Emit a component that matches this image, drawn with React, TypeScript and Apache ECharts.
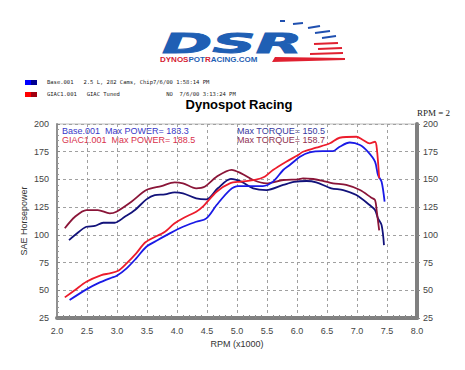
import React, { useEffect, useRef } from "react";
import * as echarts from "echarts";

// ---- Data ----
const baseTorqueRpm = [2.2, 2.3, 2.49, 2.63, 2.77, 2.96, 3.13, 3.3, 3.49, 3.63, 3.8, 3.96, 4.1, 4.32, 4.49, 4.68, 4.9, 5.07, 5.27, 5.49, 5.77, 5.95, 6.16, 6.32, 6.57, 6.77, 6.99, 7.21, 7.3, 7.35, 7.41, 7.45];
const baseTorque = [95.3, 99.8, 107.3, 108, 110.9, 110.9, 116.3, 122.4, 132, 135.9, 136.5, 138.4, 137.5, 133, 132, 142, 150.5, 148, 142, 140.4, 145, 147.8, 148.6, 147.4, 142, 140.4, 135.9, 126.9, 122.4, 114.9, 108.8, 90.8];

const giacTorqueRpm = [2.13, 2.3, 2.49, 2.68, 2.88, 2.99, 3.24, 3.49, 3.74, 3.96, 4.1, 4.32, 4.46, 4.66, 4.91, 5.07, 5.27, 5.49, 5.77, 6.02, 6.1, 6.27, 6.43, 6.6, 6.82, 7.05, 7.24, 7.3, 7.33, 7.37];
const giacTorque = [105.9, 116.3, 122.4, 122.4, 119.4, 120.9, 129.9, 140.4, 144, 147.4, 146.5, 142, 143.4, 152.4, 158.7, 155.5, 149.5, 146.5, 149.5, 150.1, 151, 150.4, 148.8, 146.5, 145, 140.4, 133.5, 131.4, 120.9, 104];

const basePowerRpm = [2.21, 2.49, 2.68, 2.91, 2.99, 3.16, 3.32, 3.49, 3.68, 3.88, 4.1, 4.32, 4.49, 4.66, 4.88, 5.02, 5.27, 5.43, 5.6, 5.77, 5.88, 6.05, 6.21, 6.43, 6.6, 6.71, 6.88, 7.05, 7.18, 7.3, 7.35, 7.41, 7.46];
const basePower = [41.2, 50.8, 56.2, 61.3, 62.8, 69.8, 78.8, 89.3, 95.3, 101.3, 107.3, 111.8, 114.9, 126.9, 140.4, 144, 144, 144, 148, 158.5, 163, 170.5, 174.5, 175.6, 175.6, 179.5, 183.3, 181, 175, 166, 154, 147.9, 129.9];

const giacPowerRpm = [2.13, 2.3, 2.49, 2.74, 2.88, 3.02, 3.16, 3.32, 3.48, 3.8, 3.95, 4.1, 4.32, 4.43, 4.66, 4.88, 5.07, 5.3, 5.46, 5.6, 5.82, 6.02, 6.1, 6.32, 6.55, 6.71, 6.99, 7.1, 7.21, 7.3, 7.33, 7.37];
const giacPower = [43.6, 50.2, 57.7, 63.7, 65.3, 67.6, 74.3, 83.3, 93.5, 102.8, 110, 115, 120.9, 125.4, 138.9, 146.5, 148, 149.5, 152.4, 158.5, 166, 172, 175, 178.6, 182.6, 187.6, 188.5, 185.6, 182.6, 184, 178, 151];

const yTicks = [25, 200, 25]; // min, max, interval
const xTicks = [2.0, 8.0, 0.5];

const legendLines = [
  "Base.001   2.5 L, 282 Cams, Chip7/6/00 1:58:14 PM",
  "GIAC1.001   GIAC Tuned              NO  7/6/00 3:13:24 PM",
];

const zip = (a: number[], b: number[]) => a.map((x, i) => [x, b[i]]);

export default function App() {
  const ref = useRef<HTMLDivElement>(null);
  useEffect(() => {
    if (!ref.current) return;
    const chart = echarts.init(ref.current, null, { renderer: "svg" });
    const font = "Arial, 'Liberation Sans', sans-serif";
    const axisCommon = {
      type: "value",
      min: yTicks[0],
      max: yTicks[1],
      interval: yTicks[2],
      axisLabel: { color: "#444", fontSize: 9, fontFamily: font },
      minorTick: { show: true, splitNumber: 5, length: 3, lineStyle: { color: "#888" } },
    };
    const streak = (x1: number, y1: number, x2: number, y2: number, color: string, w: number) => ({
      type: "line",
      shape: { x1, y1, x2, y2 },
      style: { stroke: color, lineWidth: w },
    });
    chart.setOption({
      animation: false,
      backgroundColor: "#ffffff",
      grid: { left: 57, right: 48, top: 124, bottom: 52, show: true, borderColor: "#bbbbbb", borderWidth: 1 },
      xAxis: {
        type: "value",
        min: xTicks[0],
        max: xTicks[1],
        interval: xTicks[2],
        name: "RPM (x1000)",
        nameLocation: "middle",
        nameGap: 21,
        nameMoveOverlap: false,
        nameTextStyle: { color: "#333", fontSize: 9, fontFamily: font },
        axisLine: { lineStyle: { color: "#808080", width: 4 } },
        axisTick: { show: false },
        minorTick: { show: true, splitNumber: 5, length: -3, lineStyle: { color: "#888" } },
        axisLabel: { color: "#444", fontSize: 9, fontFamily: font, margin: 8, formatter: (v: number) => v.toFixed(1) },
        splitLine: { show: true, lineStyle: { color: "#a0a0a0", type: [3, 3], width: 1 } },
      },
      yAxis: [
        {
          ...axisCommon,
          position: "left",
          name: "SAE Horsepower",
          nameLocation: "middle",
          nameGap: 29,
          nameMoveOverlap: false,
          nameTextStyle: { color: "#333", fontSize: 9, fontFamily: font },
          axisLine: { show: true, lineStyle: { color: "#909090", width: 2 } },
          axisTick: { show: true, inside: true, length: 3, lineStyle: { color: "#888" } },
          minorTick: { show: true, splitNumber: 5, length: 2, lineStyle: { color: "#999" } },
          splitLine: { show: true, lineStyle: { color: "#a0a0a0", type: [3, 3], width: 1 } },
        },
        {
          ...axisCommon,
          position: "right",
          axisLine: { show: true, lineStyle: { color: "#808080", width: 4 } },
          axisTick: { show: true, length: 3, lineStyle: { color: "#888" } },
          minorTick: { show: false },
          axisLabel: { color: "#444", fontSize: 9, fontFamily: font, margin: 6 },
          splitLine: { show: false },
        },
      ],
      series: [
        { name: "Base torque", type: "line", yAxisIndex: 1, data: zip(baseTorqueRpm, baseTorque), showSymbol: false, smooth: 0.3, lineStyle: { color: "#12127a", width: 1.8 } },
        { name: "GIAC torque", type: "line", yAxisIndex: 1, data: zip(giacTorqueRpm, giacTorque), showSymbol: false, smooth: 0.3, lineStyle: { color: "#8a1538", width: 1.8 } },
        { name: "Base power", type: "line", data: zip(basePowerRpm, basePower), showSymbol: false, smooth: 0.3, lineStyle: { color: "#1a1ae6", width: 1.8 } },
        { name: "GIAC power", type: "line", data: zip(giacPowerRpm, giacPower), showSymbol: false, smooth: 0.3, lineStyle: { color: "#ec1c2c", width: 1.8 } },
      ],
      graphic: [
        // logo streaks
        streak(280, 21, 285, 21, "#2050b0", 2),
        streak(293, 24, 303, 23, "#2050b0", 2),
        streak(308, 28, 320, 26, "#2050b0", 2),
        streak(315, 33, 330, 31, "#2050b0", 2),
        streak(322, 38, 336, 36, "#2050b0", 2),
        streak(314, 44, 338, 43, "#e02030", 2),
        streak(318, 49, 342, 48, "#e02030", 2),
        streak(310, 54, 343, 53, "#e02030", 2),
        { type: "polygon", shape: { points: [[275, 57], [345, 58], [345, 60], [272, 62]] }, style: { fill: "#e02030" } },
        {
          type: "text",
          x: 162,
          y: 31,
          style: { text: "DSR", fill: "#1f5fb4", font: "italic 900 31px 'DejaVu Sans', Arial, sans-serif", stroke: "#1f5fb4", lineWidth: 1 },
          scaleX: 1.95,
          scaleY: 0.85,
        },
        {
          type: "text",
          x: 160,
          y: 55,
          style: {
            text: "{r|DYNO}{r|S}{b|POT}{r|R}{b|ACING.COM}",
            rich: {
              r: { fill: "#d42030", font: "bold 8px Arial, sans-serif" },
              b: { fill: "#1f5fb4", font: "bold 8px Arial, sans-serif" },
            },
          },
        },
        // legend
        { type: "rect", shape: { x: 25, y: 80, width: 6, height: 5 }, style: { fill: "#0000ff" } },
        { type: "rect", shape: { x: 31, y: 80, width: 6, height: 5 }, style: { fill: "#000090" } },
        { type: "rect", shape: { x: 25, y: 92, width: 6, height: 5 }, style: { fill: "#ff0000" } },
        { type: "rect", shape: { x: 31, y: 92, width: 6, height: 5 }, style: { fill: "#a00010" } },
        { type: "text", x: 47, y: 79, style: { text: legendLines[0], fill: "#222", font: "5.5px 'DejaVu Sans Mono', monospace" } },
        { type: "text", x: 47, y: 91, style: { text: legendLines[1], fill: "#222", font: "5.5px 'DejaVu Sans Mono', monospace" } },
        // title
        { type: "text", x: 239, y: 104, style: { text: "Dynospot Racing", fill: "#000", font: "bold 13px Arial, sans-serif", align: "center", verticalAlign: "middle" } },
        { type: "text", x: 417, y: 108, style: { text: "RPM = 2", fill: "#222", font: "9px 'Liberation Serif', 'DejaVu Serif', serif" } },
        // annotations
        { type: "text", x: 62, y: 126, style: { text: "Base.001  Max POWER= 183.3", fill: "#3838c8", font: "9px Arial, sans-serif" } },
        { type: "text", x: 62, y: 135, style: { text: "GIAC1.001  Max POWER= 188.5", fill: "#d8304c", font: "9px Arial, sans-serif" } },
        { type: "text", x: 237, y: 126, style: { text: "Max TORQUE= 150.5", fill: "#3838a0", font: "9px Arial, sans-serif" } },
        { type: "text", x: 237, y: 135, style: { text: "Max TORQUE= 158.7", fill: "#903050", font: "9px Arial, sans-serif" } },
      ],
    });
    return () => chart.dispose();
  }, []);
  return <div ref={ref} style={{ width: 465, height: 370, position: "absolute", left: 0, top: 0 }} />;
}
